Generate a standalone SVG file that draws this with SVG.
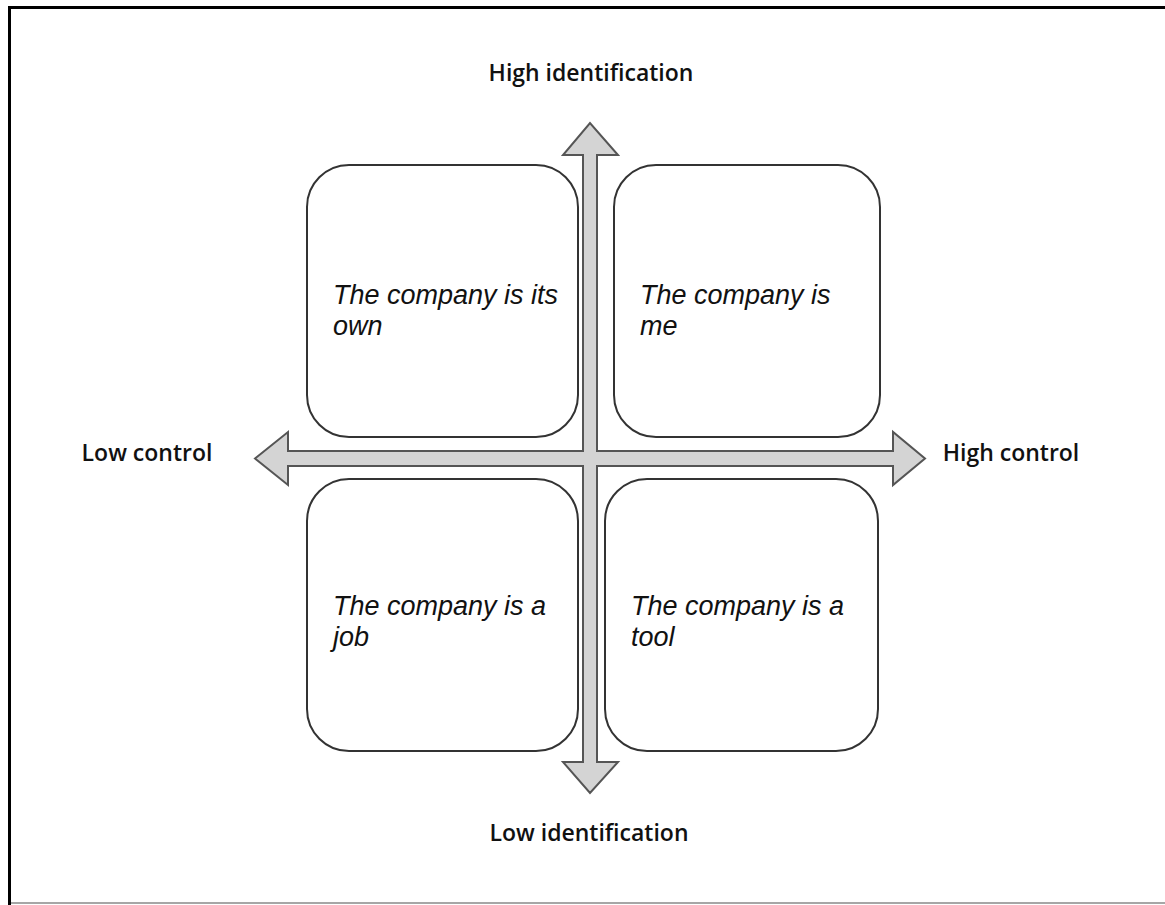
<svg xmlns="http://www.w3.org/2000/svg" width="1165" height="905" viewBox="0 0 1165 905">
<style>
.box{fill:#fff;stroke:#333;stroke-width:2}
.arrow{fill:#d4d4d4;stroke:#555;stroke-width:2;stroke-linejoin:miter}
.q{font-family:"Liberation Sans",Arial,sans-serif;font-style:italic;font-size:27px;fill:#111}
.lbl{font-family:"Open Sans","Liberation Sans",sans-serif;font-size:23px;fill:#111;font-weight:600}
</style>
<rect x="0" y="0" width="1165" height="905" fill="#fff"/>
<g id="frame">
<line x1="8" y1="7.5" x2="1165" y2="7.5" stroke="#000" stroke-width="3"/>
<line x1="9.5" y1="6" x2="9.5" y2="905" stroke="#000" stroke-width="3"/>
<line x1="11" y1="903" x2="1165" y2="903" stroke="#888" stroke-width="1.5"/>
</g>
<g id="box-own"><rect class="box" x="307" y="165" width="271" height="272" rx="42"/>
<text class="q"><tspan x="333" y="304">The company is its</tspan><tspan x="333" y="335">own</tspan></text></g>
<g id="box-me"><rect class="box" x="614" y="165" width="266" height="272" rx="42"/>
<text class="q"><tspan x="640" y="304">The company is</tspan><tspan x="640" y="335">me</tspan></text></g>
<g id="box-job"><rect class="box" x="307" y="479" width="271" height="272" rx="42"/>
<text class="q"><tspan x="333" y="615">The company is a</tspan><tspan x="333" y="646">job</tspan></text></g>
<g id="box-tool"><rect class="box" x="605" y="479" width="273" height="272" rx="42"/>
<text class="q"><tspan x="631" y="615">The company is a</tspan><tspan x="631" y="646">tool</tspan></text></g>
<g id="connectors">
<path class="arrow" d="M255,458.5 L288,432 L288,451 L583,451 L583,155 L563,155 L590,123 L618,155 L597,155 L597,451 L893,451 L893,432 L925,458.5 L893,485 L893,466 L597,466 L597,762 L618,762 L590,793 L563,762 L583,762 L583,466 L288,466 L288,485 Z"/>
</g>
<g id="labels">
<text class="lbl" x="591" y="81" text-anchor="middle">High identification</text>
<text class="lbl" x="589" y="841" text-anchor="middle">Low identification</text>
<text class="lbl" x="147" y="461" text-anchor="middle">Low control</text>
<text class="lbl" x="1011" y="461" text-anchor="middle">High control</text>
</g>
</svg>
